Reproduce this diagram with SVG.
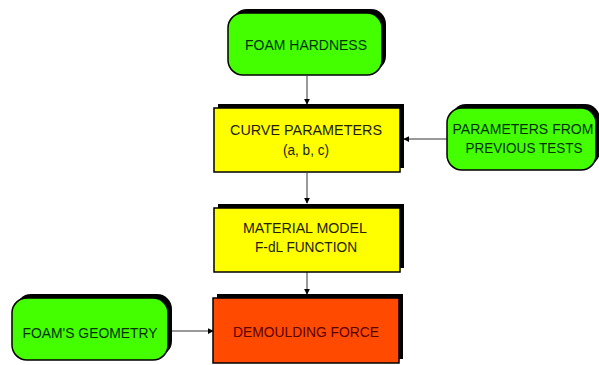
<svg xmlns="http://www.w3.org/2000/svg" width="599" height="365" viewBox="0 0 599 365">
<defs>
<style>
.g{fill:#44ff00;stroke:#000;stroke-width:1.5}
.y{fill:#ffff00;stroke:#000;stroke-width:1.5}
.o{fill:#ff4a00;stroke:#000;stroke-width:1.5}
.sh{fill:#000}
text{font-family:"Liberation Sans",Arial,sans-serif;font-size:14px;text-anchor:middle}
.tg{fill:#003300}
.ty{fill:#222200}
.to{fill:#5a0000}
.c{stroke:#999;stroke-width:2;fill:none}
</style>
<marker id="ah" viewBox="0 0 8 8" refX="7" refY="4" markerWidth="6" markerHeight="6" markerUnits="userSpaceOnUse" orient="auto">
<path d="M0,0 L8,4 L0,8 Z" fill="#000"/>
</marker>
</defs>
<rect width="599" height="365" fill="#fff"/>
<g id="connectors">
<line class="c" x1="307" y1="76" x2="307" y2="104" marker-end="url(#ah)"/>
<line class="c" x1="307" y1="173" x2="307" y2="203" marker-end="url(#ah)"/>
<line class="c" x1="307" y1="272" x2="307" y2="294" marker-end="url(#ah)"/>
<line class="c" x1="447" y1="139" x2="404" y2="139" marker-end="url(#ah)"/>
<line class="c" x1="168" y1="331" x2="213" y2="331" marker-end="url(#ah)"/>
</g>
<g id="foam-hardness">
<rect class="sh" x="232" y="9" width="154" height="62" rx="15"/>
<rect class="g" x="228" y="13" width="154" height="62" rx="15"/>
<text class="tg" x="306" y="50" textLength="122" lengthAdjust="spacingAndGlyphs">FOAM HARDNESS</text>
</g>
<g id="curve-parameters">
<rect class="sh" x="218" y="104" width="186" height="64"/>
<rect class="y" x="214" y="108" width="186" height="64"/>
<text class="ty" x="306" y="135" textLength="152" lengthAdjust="spacingAndGlyphs">CURVE PARAMETERS</text>
<text class="ty" x="306" y="155" textLength="46" lengthAdjust="spacingAndGlyphs">(a, b, c)</text>
</g>
<g id="parameters-previous">
<rect class="sh" x="451" y="104" width="149" height="62" rx="15"/>
<rect class="g" x="447" y="108" width="149" height="62" rx="15"/>
<text class="tg" x="523" y="134" textLength="141" lengthAdjust="spacingAndGlyphs">PARAMETERS FROM</text>
<text class="tg" x="524" y="153" textLength="117" lengthAdjust="spacingAndGlyphs">PREVIOUS TESTS</text>
</g>
<g id="material-model">
<rect class="sh" x="218" y="204" width="186" height="64"/>
<rect class="y" x="214" y="208" width="186" height="64"/>
<text class="ty" x="305" y="233" textLength="124" lengthAdjust="spacingAndGlyphs">MATERIAL MODEL</text>
<text class="ty" x="306" y="252" textLength="102" lengthAdjust="spacingAndGlyphs">F-dL FUNCTION</text>
</g>
<g id="foams-geometry">
<rect class="sh" x="16" y="294" width="156" height="62" rx="15"/>
<rect class="g" x="12" y="298" width="156" height="62" rx="15"/>
<text class="tg" x="90" y="338" textLength="135" lengthAdjust="spacingAndGlyphs">FOAM'S GEOMETRY</text>
</g>
<g id="demoulding-force">
<rect class="sh" x="217" y="294" width="186" height="65"/>
<rect class="o" x="213" y="298" width="186" height="65"/>
<text class="to" x="306" y="337" textLength="146" lengthAdjust="spacingAndGlyphs">DEMOULDING FORCE</text>
</g>
</svg>
